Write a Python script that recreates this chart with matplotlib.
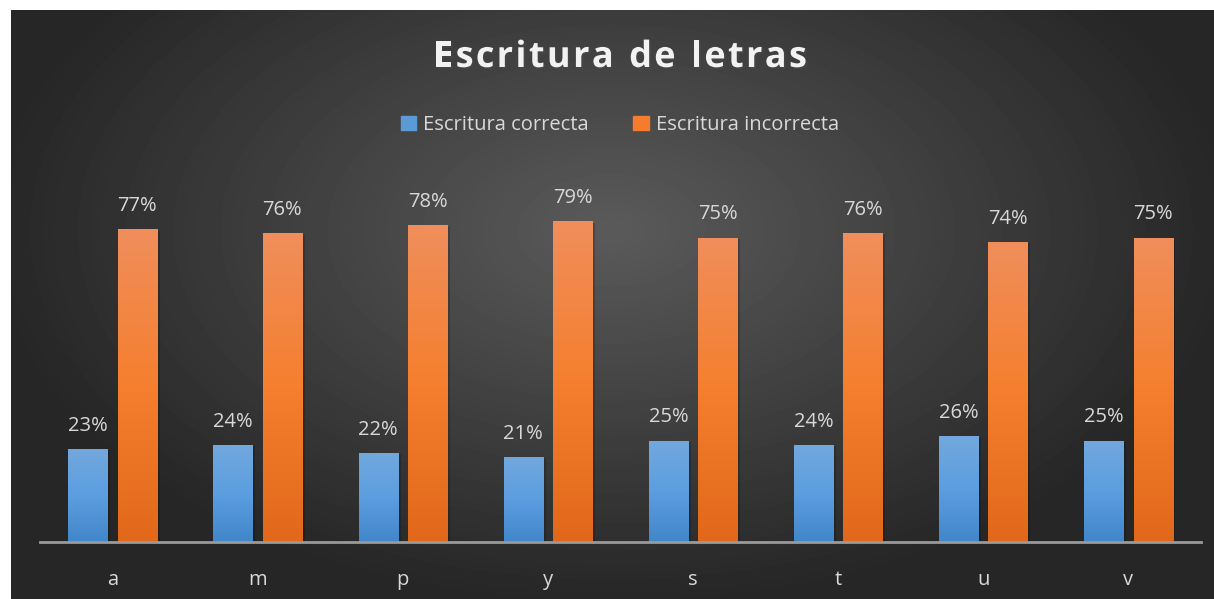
import numpy as np
import matplotlib.pyplot as plt
import matplotlib.patheffects as pe
from matplotlib.colors import LinearSegmentedColormap
from matplotlib.patches import Patch

letras = ['a', 'm', 'p', 'y', 's', 't', 'u', 'v']
correcta = [23, 24, 22, 21, 25, 24, 26, 25]
incorrecta = [77, 76, 78, 79, 75, 76, 74, 75]
titulo = 'Escritura de letras'

W, H = 1214, 599
fig = plt.figure(figsize=(W / 100, H / 100), dpi=100)
plt.rcParams['font.family'] = ['Open Sans', 'DejaVu Sans']
txt_col = '#d9d9d9'

# dark radial background (white strip at top/left like the original)
bg = fig.add_axes([11 / W, 0, 1 - 11 / W, 1 - 10 / H], zorder=-5)
yy, xx = np.mgrid[0:589, 0:1203]
d = np.sqrt(((xx - 600) / 700.0) ** 2 + ((yy - 220) / 420.0) ** 2)
shade = np.clip(0.355 - 0.23 * d, 0.15, 0.355)
bg.imshow(shade, cmap='gray', vmin=0, vmax=1, aspect='auto', interpolation='bilinear')
bg.axis('off')

ax = fig.add_axes([40 / W, 57 / H, 1161 / W, 406 / H])
ax.set_facecolor('none')
x = np.arange(len(letras))
w = 0.27
off = 0.17

blue_cm = LinearSegmentedColormap.from_list('b', ['#4286ca', '#5c9ee0', '#72a8dd'])
orange_cm = LinearSegmentedColormap.from_list('o', ['#e1681a', '#f57f2e', '#f08e5c'])

b1 = ax.bar(x - off, np.array(correcta) / 100, w, color='#5b9bd5', zorder=2)
b2 = ax.bar(x + off, np.array(incorrecta) / 100, w, color='#f47c2c', zorder=2)

grad = np.linspace(0, 1, 256).reshape(-1, 1)
for bars, cm in ((b1, blue_cm), (b2, orange_cm)):
    for r in bars:
        r.set_path_effects([pe.SimplePatchShadow(offset=(2, -1), shadow_rgbFace='black', alpha=0.18), pe.Normal()])
        x0, hgt = r.get_x(), r.get_height()
        im = ax.imshow(grad, cmap=cm, extent=(x0, x0 + r.get_width(), 0, hgt),
                       origin='lower', aspect='auto', zorder=3)
        im.set_clip_path(r)

for bars, vals in ((b1, correcta), (b2, incorrecta)):
    for r, v in zip(bars, vals):
        ax.annotate(f'{v}%', (r.get_x() + r.get_width() / 2, r.get_height()),
                    xytext=(0, 13), textcoords='offset points', ha='center',
                    va='baseline', color=txt_col, fontsize=14.5)

ax.set_xlim(-0.5, len(letras) - 0.5)
ax.set_ylim(0, 1.0)
ax.set_xticks(x)
ax.set_xticklabels(letras, color=txt_col, fontsize=14.5)
ax.tick_params(axis='x', length=0, pad=20)
ax.set_yticks([])
for s in ['top', 'left', 'right']:
    ax.spines[s].set_visible(False)
ax.spines['bottom'].set_color('#9a9a9a')
ax.spines['bottom'].set_linewidth(2)
ax.spines['bottom'].set_zorder(4)

# title with letter spacing: place each character by hand
renderer = fig.canvas.get_renderer()
tkw = dict(fontsize=26, fontweight='bold', color='#f2f2f2', va='center', ha='left',
           path_effects=[pe.withSimplePatchShadow(offset=(1.5, -1.5), alpha=0.5)])
gap = 2.3
widths = []
for ch in titulo:
    t = fig.text(0, 0, ch if ch != ' ' else 'n', **tkw)
    bw = t.get_window_extent(renderer).width
    widths.append(bw * (0.45 if ch == ' ' else 1.0))
    t.remove()
total = sum(widths) + gap * (len(titulo) - 1)
cx = 620 - total / 2
for ch, cw in zip(titulo, widths):
    if ch != ' ':
        fig.text(cx / W, 1 - 58 / H, ch, **tkw)
    cx += cw + gap

handles = [Patch(color='#5b9bd5', label='Escritura correcta'),
           Patch(color='#f47c2c', label='Escritura incorrecta')]
fig.legend(handles=handles, loc='center', bbox_to_anchor=(620 / W, 1 - 125 / H), ncol=2,
           frameon=False, fontsize=14.5, labelcolor=txt_col, handlelength=0.75,
           handleheight=0.75, handletextpad=0.35, columnspacing=2.2)

fig.savefig('out.png', dpi=100, facecolor='white')
